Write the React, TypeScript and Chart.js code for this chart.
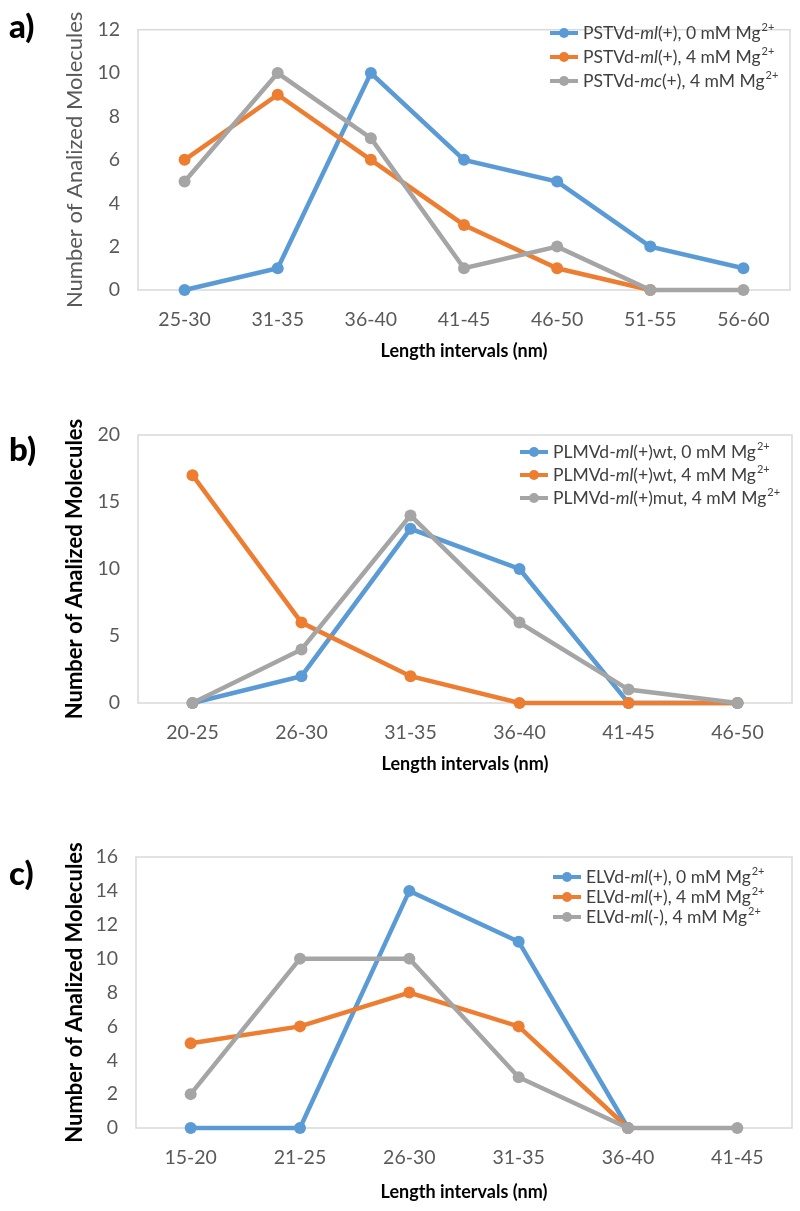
import React, { useEffect, useRef } from "react";
import { Chart, registerables } from "chart.js";
Chart.register(...registerables);

// ---------- DATA ----------
const catsA = ["25-30", "31-35", "36-40", "41-45", "46-50", "51-55", "56-60"];
const aMl0 = [0, 1, 10, 6, 5, 2, 1];
const aMl4 = [6, 9, 6, 3, 1, 0, null];
const aMc4 = [5, 10, 7, 1, 2, 0, 0];
const legendA = ["PSTVd-*ml*(+), 0 mM Mg^2+", "PSTVd-*ml*(+), 4 mM Mg^2+", "PSTVd-*mc*(+), 4 mM Mg^2+"];

const catsB = ["20-25", "26-30", "31-35", "36-40", "41-45", "46-50"];
const bWt0 = [0, 2, 13, 10, 0, 0];
const bWt4 = [17, 6, 2, 0, 0, 0];
const bMut4 = [0, 4, 14, 6, 1, 0];
const legendB = ["PLMVd-*ml*(+)wt, 0 mM Mg^2+", "PLMVd-*ml*(+)wt, 4 mM Mg^2+", "PLMVd-*ml*(+)mut, 4 mM Mg^2+"];

const catsC = ["15-20", "21-25", "26-30", "31-35", "36-40", "41-45"];
const cPlus0 = [0, 0, 14, 11, 0, null];
const cPlus4 = [5, 6, 8, 6, 0, null];
const cMinus4 = [2, 10, 10, 3, 0, 0];
const legendC = ["ELVd-*ml*(+), 0 mM Mg^2+", "ELVd-*ml*(+), 4 mM Mg^2+", "ELVd-*ml*(-), 4 mM Mg^2+"];

const xTitle = "Length intervals (nm)";
const yTitle = "Number of Analized Molecules";

// ---------- STYLE ----------
const COLORS = ["#5B9BD5", "#ED7D31", "#A5A5A5"];
const FONT = "Lato";

type PanelCfg = {
  label: string;
  top: number; h: number;
  chartTop: number; chartBottom: number; chartLeft: number; chartRight: number;
  xTitleCenter: number;
  yMax: number; yStep: number;
  yTitleBold: boolean;
  cats: string[];
  series: (number | null)[][];
  legend: string[];
  legX: number; legY: number; legGap: number;
  labelTop: number;
};

const panels: PanelCfg[] = [
  {
    label: "a)", top: 0, h: 372, chartTop: 15, chartBottom: 290, chartLeft: 138, chartRight: 790,
    xTitleCenter: 351, yMax: 12, yStep: 2, yTitleBold: false, cats: catsA,
    series: [aMl0, aMl4, aMc4], legend: legendA, legX: 550, legY: 33, legGap: 24, labelTop: 5,
  },
  {
    label: "b)", top: 380, h: 400, chartTop: 435, chartBottom: 703, chartLeft: 138, chartRight: 792,
    xTitleCenter: 764, yMax: 20, yStep: 5, yTitleBold: true, cats: catsB,
    series: [bWt0, bWt4, bMut4], legend: legendB, legX: 520, legY: 452, legGap: 23, labelTop: 428,
  },
  {
    label: "c)", top: 780, h: 431, chartTop: 857, chartBottom: 1128, chartLeft: 136, chartRight: 792,
    xTitleCenter: 1192, yMax: 16, yStep: 2, yTitleBold: true, cats: catsC,
    series: [cPlus0, cPlus4, cMinus4], legend: legendC, legX: 553, legY: 877, legGap: 20, labelTop: 852,
  },
];

const framePlugin = {
  id: "frame",
  beforeDatasetsDraw(chart: any) {
    const { ctx, chartArea: a } = chart;
    ctx.save();
    ctx.strokeStyle = "#d9d9d9";
    ctx.lineWidth = 1.5;
    ctx.strokeRect(a.left, a.top, a.right - a.left, a.bottom - a.top);
    ctx.restore();
  },
};

function parseLabel(s: string) {
  const parts: { t: string; it?: boolean; sup?: boolean }[] = [];
  const re = /(\*[^*]+\*|\^.+$)/g;
  let last = 0;
  let m: RegExpExecArray | null;
  while ((m = re.exec(s))) {
    if (m.index > last) parts.push({ t: s.slice(last, m.index) });
    const tok = m[0];
    if (tok[0] === "*") parts.push({ t: tok.slice(1, -1), it: true });
    else parts.push({ t: tok.slice(1), sup: true });
    last = m.index + tok.length;
  }
  if (last < s.length) parts.push({ t: s.slice(last) });
  return parts;
}

const legendPlugin = {
  id: "customLegend",
  afterDraw(chart: any, _args: any, opts: any) {
    const { ctx } = chart;
    const size = opts.size;
    ctx.save();
    opts.labels.forEach((lab: string, i: number) => {
      const y = opts.y + i * opts.gap;
      const x0 = opts.x;
      const col = COLORS[i];
      ctx.strokeStyle = col;
      ctx.lineWidth = 4;
      ctx.beginPath();
      ctx.moveTo(x0, y);
      ctx.lineTo(x0 + 28, y);
      ctx.stroke();
      ctx.fillStyle = col;
      ctx.beginPath();
      ctx.arc(x0 + 14, y, 5, 0, Math.PI * 2);
      ctx.fill();
      let x = x0 + 33;
      ctx.fillStyle = "#404040";
      ctx.textBaseline = "middle";
      ctx.textAlign = "left";
      for (const p of parseLabel(lab)) {
        if (p.sup) {
          ctx.font = `${Math.round(size * 0.62)}px ${FONT}`;
          ctx.fillText(p.t, x + 1, y - size * 0.33);
          x += ctx.measureText(p.t).width + 1;
        } else {
          ctx.font = `${p.it ? "italic " : ""}${size}px ${FONT}`;
          ctx.fillText(p.t, x, y);
          x += ctx.measureText(p.t).width;
        }
      }
    });
    ctx.restore();
  },
};

function Panel({ cfg }: { cfg: PanelCfg }) {
  const ref = useRef<HTMLCanvasElement>(null);
  useEffect(() => {
    const xTitleSize = 18;
    const yTitleSize = 22;
    const xlh = xTitleSize * 1.2;
    const ylh = yTitleSize * 1.2;
    const padLeft = 75 - ylh / 2;
    const xAxisH = cfg.xTitleCenter + xlh / 2 - cfg.chartBottom;
    const padBottom = cfg.top + cfg.h - (cfg.xTitleCenter + xlh / 2);
    const chart = new Chart(ref.current!, {
      type: "line",
      data: {
        labels: cfg.cats,
        datasets: cfg.series.map((d, i) => ({
          data: d,
          borderColor: COLORS[i],
          backgroundColor: COLORS[i],
          pointBackgroundColor: COLORS[i],
          pointBorderWidth: 0,
          pointRadius: 6,
          borderWidth: 4.5,
          tension: 0,
          clip: false as any,
          order: 3 - i,
        })),
      },
      options: {
        responsive: false,
        animation: false,
        events: [],
        layout: {
          padding: {
            top: cfg.chartTop - cfg.top,
            left: padLeft,
            right: 800 - cfg.chartRight,
            bottom: padBottom,
          },
        },
        plugins: {
          legend: { display: false },
          tooltip: { enabled: false },
          customLegend: { labels: cfg.legend, x: cfg.legX, y: cfg.legY - cfg.top, gap: cfg.legGap, size: 17.5 },
        } as any,
        scales: {
          x: {
            type: "category",
            offset: true,
            grid: { display: false, drawTicks: false },
            border: { display: false },
            ticks: { color: "#595959", font: { family: FONT, size: 19.5 }, padding: 18, maxRotation: 0 },
            title: {
              display: true, text: xTitle, color: "#000000",
              font: { family: FONT, size: xTitleSize, weight: "bold" }, padding: { top: 0, bottom: 0 },
            },
            afterFit: (s: any) => { s.height = xAxisH; },
          },
          y: {
            min: 0, max: cfg.yMax,
            grid: { display: false, drawTicks: false },
            border: { display: false },
            ticks: { stepSize: cfg.yStep, color: "#595959", font: { family: FONT, size: 19.5 }, padding: 18 },
            title: {
              display: true, text: yTitle, color: cfg.yTitleBold ? "#000000" : "#595959",
              font: { family: FONT, size: yTitleSize, weight: cfg.yTitleBold ? "bold" : "normal" },
              padding: { top: 0, bottom: 0 },
            },
            afterFit: (s: any) => { s.width = cfg.chartLeft - padLeft; },
          },
        },
      } as any,
      plugins: [framePlugin, legendPlugin],
    });
    return () => chart.destroy();
  }, []);
  return (
    <>
      <canvas
        ref={ref}
        width={800}
        height={cfg.h}
        style={{ position: "absolute", left: 0, top: cfg.top, width: 800, height: cfg.h }}
      />
      <div
        style={{
          position: "absolute", left: 9, top: cfg.labelTop, fontFamily: FONT, fontWeight: 900,
          fontSize: 33, lineHeight: "40px", color: "#000",
        }}
      >
        {cfg.label}
      </div>
    </>
  );
}

export default function App() {
  return (
    <div style={{ position: "absolute", left: 0, top: 0, width: 800, height: 1211, background: "#fff" }}>
      {panels.map((p) => (
        <Panel key={p.label} cfg={p} />
      ))}
    </div>
  );
}
